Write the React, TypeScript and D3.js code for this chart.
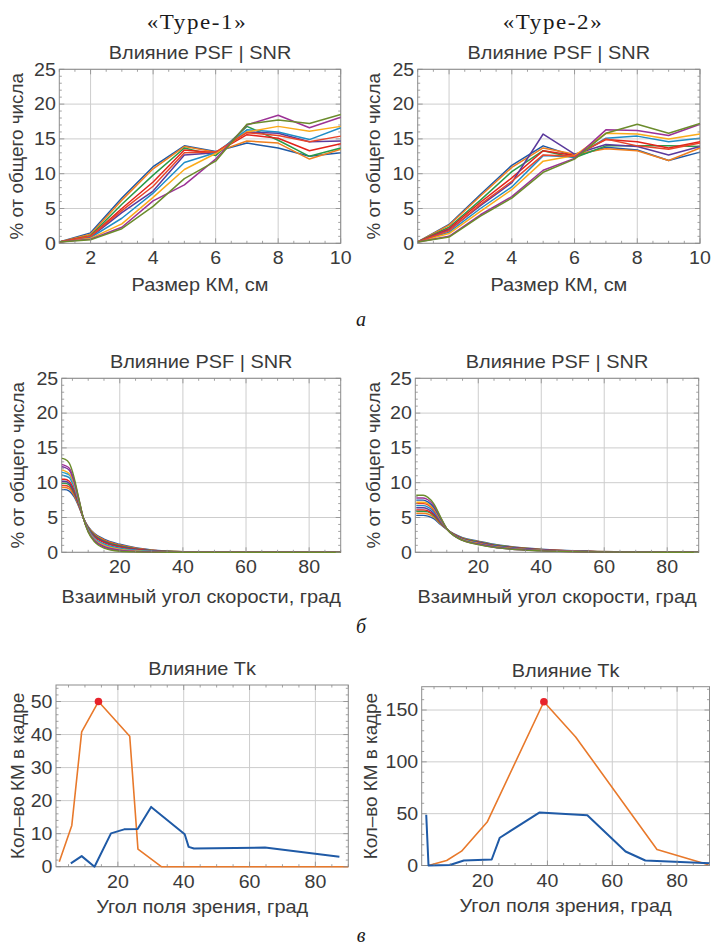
import React from 'react';
import * as d3 from 'd3';

// ---------- DATA ----------
const sizeX = [1, 2, 3, 4, 5, 6, 7, 8, 9, 10];
const type1Size = [
  [0.2, 1.5, 6.5, 11.0, 14.0, 13.2, 14.4, 13.7, 12.5, 13.0],
  [0.2, 1.3, 6.2, 10.7, 13.9, 13.1, 14.7, 14.4, 12.1, 13.5],
  [0.2, 1.1, 5.6, 9.8, 13.7, 12.6, 16.8, 14.8, 12.5, 13.7],
  [0.2, 1.0, 5.0, 8.8, 13.4, 13.0, 15.6, 15.1, 13.3, 14.3],
  [0.2, 0.9, 4.4, 7.5, 12.7, 13.0, 16.0, 15.8, 14.6, 14.7],
  [0.2, 0.8, 3.6, 7.2, 11.6, 13.0, 16.3, 16.0, 14.9, 16.6],
  [0.2, 0.7, 2.8, 6.6, 10.6, 12.9, 16.0, 16.8, 16.1, 16.8],
  [0.2, 1.0, 4.7, 8.2, 13.0, 13.1, 15.9, 15.5, 14.6, 15.4],
  [0.2, 0.6, 2.3, 6.1, 8.4, 12.1, 17.0, 18.4, 16.6, 18.1],
  [0.2, 0.5, 2.1, 5.3, 9.3, 11.8, 17.1, 17.7, 17.2, 18.5],
];
const type2Size = [
  [0.2, 2.7, 7.0, 11.2, 14.0, 12.5, 13.8, 13.4, 11.9, 13.1],
  [0.2, 2.6, 6.8, 10.9, 13.7, 12.8, 13.6, 13.3, 11.9, 13.7],
  [0.2, 2.3, 6.2, 10.3, 13.3, 12.3, 14.0, 14.0, 14.0, 13.9],
  [0.2, 2.1, 5.9, 9.4, 13.3, 12.6, 14.9, 14.6, 13.7, 14.6],
  [0.2, 1.9, 5.4, 8.7, 15.7, 12.8, 14.2, 13.9, 12.7, 13.9],
  [0.2, 1.6, 5.0, 8.1, 12.6, 12.4, 15.1, 15.4, 14.6, 15.1],
  [0.2, 1.4, 4.6, 7.7, 11.8, 12.6, 15.8, 15.7, 15.0, 15.7],
  [0.2, 1.8, 5.6, 8.9, 12.7, 12.5, 15.0, 14.0, 13.5, 14.4],
  [0.2, 1.0, 4.1, 6.7, 10.5, 12.2, 16.3, 16.2, 15.5, 17.1],
  [0.2, 0.9, 3.9, 6.5, 10.2, 12.1, 15.8, 17.1, 15.8, 17.2],
];
const sizeColors = ['#1f5aa6', '#f07f1e', '#2a9a48', '#e2231a', '#5b3a9c', '#1f8dc7', '#fbab1a', '#e8452a', '#9c3296', '#6b8c2c'];

const angleX1 = [1.6, 2.5, 4, 5.5, 7, 8.4, 10, 12, 15, 20, 25, 30, 40, 55, 90];
const type1Angle = [
  [9.0, 9.0, 8.8, 8.0, 6.6, 5.0, 3.7, 2.7, 1.9, 1.15, 0.65, 0.35, 0.1, 0.02, 0],
  [9.3, 9.3, 9.1, 8.2, 6.7, 5.0, 3.6, 2.6, 1.8, 1.05, 0.6, 0.32, 0.09, 0.02, 0],
  [9.6, 9.6, 9.4, 8.4, 6.8, 5.0, 3.55, 2.5, 1.7, 0.98, 0.55, 0.3, 0.08, 0.01, 0],
  [9.9, 9.9, 9.7, 8.6, 6.9, 5.0, 3.5, 2.4, 1.6, 0.9, 0.5, 0.26, 0.07, 0.01, 0],
  [10.2, 10.2, 9.9, 8.8, 7.0, 5.0, 3.4, 2.3, 1.5, 0.82, 0.45, 0.23, 0.06, 0.01, 0],
  [10.5, 10.5, 10.2, 9.0, 7.1, 5.0, 3.35, 2.2, 1.4, 0.75, 0.4, 0.2, 0.05, 0.01, 0],
  [11.1, 11.0, 10.7, 9.4, 7.3, 5.0, 3.25, 2.0, 1.2, 0.6, 0.3, 0.15, 0.03, 0, 0],
  [11.5, 11.4, 11.1, 9.7, 7.4, 5.0, 3.2, 1.9, 1.1, 0.5, 0.25, 0.12, 0.02, 0, 0],
  [11.8, 11.7, 11.3, 9.9, 7.5, 5.0, 3.1, 1.8, 1.0, 0.42, 0.2, 0.09, 0.02, 0, 0],
  [12.3, 12.2, 11.8, 10.2, 7.6, 5.0, 3.0, 1.7, 0.85, 0.32, 0.13, 0.06, 0.01, 0, 0],
  [12.6, 12.5, 12.1, 10.4, 7.7, 5.0, 3.0, 1.6, 0.75, 0.25, 0.1, 0.04, 0.01, 0, 0],
  [13.5, 13.4, 12.8, 10.8, 7.8, 5.0, 2.9, 1.5, 0.6, 0.15, 0.05, 0.02, 0, 0, 0],
];
const angleX2 = [0.3, 2.5, 4, 6, 8, 10.3, 12.5, 15, 20, 25, 30, 40, 55, 70, 90];
const type2Angle = [
  [5.3, 5.3, 5.2, 4.8, 4.0, 3.2, 2.6, 2.1, 1.6, 1.15, 0.85, 0.45, 0.17, 0.07, 0.02],
  [5.6, 5.6, 5.5, 5.0, 4.1, 3.2, 2.55, 2.05, 1.55, 1.1, 0.8, 0.42, 0.15, 0.06, 0.02],
  [5.9, 5.9, 5.8, 5.2, 4.2, 3.2, 2.5, 2.0, 1.5, 1.05, 0.76, 0.39, 0.14, 0.05, 0.02],
  [6.1, 6.1, 5.95, 5.35, 4.3, 3.2, 2.5, 1.95, 1.45, 1.0, 0.72, 0.36, 0.13, 0.05, 0.02],
  [6.4, 6.4, 6.2, 5.55, 4.4, 3.2, 2.45, 1.9, 1.4, 0.95, 0.68, 0.33, 0.12, 0.04, 0.01],
  [6.7, 6.7, 6.5, 5.8, 4.5, 3.2, 2.4, 1.85, 1.35, 0.9, 0.63, 0.3, 0.1, 0.04, 0.01],
  [7.0, 7.0, 6.8, 6.0, 4.65, 3.2, 2.4, 1.8, 1.3, 0.85, 0.58, 0.28, 0.09, 0.03, 0.01],
  [7.2, 7.2, 7.0, 6.2, 4.75, 3.2, 2.35, 1.8, 1.25, 0.8, 0.55, 0.26, 0.08, 0.03, 0.01],
  [7.5, 7.5, 7.25, 6.4, 4.85, 3.2, 2.35, 1.75, 1.2, 0.77, 0.51, 0.24, 0.07, 0.03, 0.01],
  [7.8, 7.8, 7.55, 6.65, 5.0, 3.2, 2.3, 1.72, 1.15, 0.73, 0.48, 0.22, 0.07, 0.02, 0.01],
  [8.2, 8.2, 7.9, 6.9, 5.1, 3.2, 2.3, 1.7, 1.1, 0.7, 0.45, 0.2, 0.06, 0.02, 0.01],
];
const angleColors = ['#1f5aa6', '#f07f1e', '#e8452a', '#2a9a48', '#5b3a9c', '#e2231a', '#1f8dc7', '#2fa0c8', '#fbab1a', '#7a3a9e', '#9c3296', '#6b8c2c'];
const angleColors2 = ['#1f5aa6', '#f07f1e', '#2a9a48', '#e2231a', '#5b3a9c', '#1f8dc7', '#e8452a', '#fbab1a', '#1f5aa6', '#9c3296', '#6b8c2c'];

const tk1OrangeX = [2.2, 6.0, 9.0, 14.1, 23.6, 26.1, 33.2, 90];
const tk1OrangeY = [1.5, 12.5, 40.8, 50, 39.5, 5.3, 0, 0];
const tk1BlueX = [5.7, 9.0, 12.9, 17.9, 21.9, 26.0, 30.1, 40.3, 41.5, 43.1, 64.7, 87.3];
const tk1BlueY = [1.0, 3.2, 0, 10.1, 11.3, 11.4, 18.1, 9.8, 6.0, 5.5, 5.8, 3.0];
const tk1Peak: [number, number] = [14.1, 50];

const tk2OrangeX = [3.3, 8.9, 13.5, 21.4, 38.9, 48.7, 73.8, 89.7];
const tk2OrangeY = [0, 4.8, 13.8, 41.9, 158, 124, 15.5, 0.7];
const tk2BlueX = [2.6, 3.3, 9.9, 14.2, 22.8, 25.3, 37.6, 52.3, 64.1, 70.2, 90];
const tk2BlueY = [49, 0, 0.5, 4.8, 5.8, 26.8, 51.2, 48.4, 13.5, 4.8, 2.2];
const tk2Peak: [number, number] = [38.9, 158];

const sizeXTicks = [2, 4, 6, 8, 10];
const pctTicks = [0, 5, 10, 15, 20, 25];
const angleTicks = [20, 40, 60, 80];
const tk1YTicks = [0, 10, 20, 30, 40, 50];
const tk2YTicks = [0, 50, 100, 150];

// ---------- STYLE ----------
const FONT = '"Liberation Sans", Arial, sans-serif';
const SERIF = '"Liberation Serif", "Times New Roman", serif';
const TXT = '#3a3a3a';
const GRID = '#cdcdcd';
const FRAME = '#8c8c8c';
const ORANGE = '#e8792b';
const BLUE = '#1f5aa6';
const SX = 1.12; // horizontal widening of the glyphs to match the reference font

type TxtProps = {
  x: number; y: number; size: number; anchor?: 'start' | 'middle' | 'end';
  rotate?: number; sx?: number; family?: string; fill?: string; italic?: boolean;
  central?: boolean; spacing?: number; children: React.ReactNode;
};
function Txt(t: TxtProps) {
  const tr = `translate(${t.x},${t.y})${t.rotate ? ` rotate(${t.rotate})` : ''} scale(${t.sx ?? SX},1)`;
  return (
    <text
      transform={tr}
      textAnchor={t.anchor ?? 'middle'}
      dominantBaseline={t.central ? 'central' : undefined}
      fontSize={t.size}
      fontFamily={t.family ?? FONT}
      fill={t.fill ?? TXT}
      fontStyle={t.italic ? 'italic' : undefined}
      letterSpacing={t.spacing}
    >
      {t.children}
    </text>
  );
}

type Series = { xs: number[]; ys: number[]; color: string; width: number };

interface PanelProps {
  id: string;
  left: number; right: number; top: number; bottom: number;
  xDomain: [number, number]; yDomain: [number, number];
  xMajor: number[]; xMinor: number[]; yMajor: number[]; yMinor: number[];
  title: string; xLabel: string; yLabel: string; yLabelX: number;
  xLabelDy: number;
  series: Series[];
  smooth?: boolean;
  dot?: [number, number];
}

function Panel(p: PanelProps) {
  const x = d3.scaleLinear().domain(p.xDomain).range([p.left, p.right]);
  const y = d3.scaleLinear().domain(p.yDomain).range([p.bottom, p.top]);
  const line = d3
    .line<[number, number]>()
    .x((d) => x(d[0]))
    .y((d) => y(d[1]))
    .curve(p.smooth ? d3.curveMonotoneX : d3.curveLinear);
  const inX = (v: number) => v >= p.xDomain[0] - 1e-9 && v <= p.xDomain[1] + 1e-9;
  const inY = (v: number) => v >= p.yDomain[0] - 1e-9 && v <= p.yDomain[1] + 1e-9;
  const cx = (p.left + p.right) / 2;
  const cy = (p.top + p.bottom) / 2;
  const MAJ = 5, MIN = 2.5;
  return (
    <g>
      <defs>
        <clipPath id={`clip-${p.id}`}>
          <rect x={p.left} y={p.top - 4} width={p.right - p.left + 1} height={p.bottom - p.top + 6} />
        </clipPath>
      </defs>
      {p.xMajor.filter(inX).map((v) => (
        <line key={`gx${v}`} x1={x(v)} x2={x(v)} y1={p.top} y2={p.bottom} stroke={GRID} strokeWidth={1} />
      ))}
      {p.yMajor.filter(inY).map((v) => (
        <line key={`gy${v}`} x1={p.left} x2={p.right} y1={y(v)} y2={y(v)} stroke={GRID} strokeWidth={1} />
      ))}
      <rect x={p.left} y={p.top} width={p.right - p.left} height={p.bottom - p.top} fill="none" stroke={FRAME} strokeWidth={1} />
      <g clipPath={`url(#clip-${p.id})`}>
        {p.series.map((s, i) => (
          <path
            key={i}
            d={line(s.xs.map((xv, j) => [xv, s.ys[j]] as [number, number])) || ''}
            fill="none"
            stroke={s.color}
            strokeWidth={s.width}
            strokeLinejoin="round"
          />
        ))}
      </g>
      {p.dot && <circle cx={x(p.dot[0])} cy={y(p.dot[1])} r={3.8} fill="#e8232b" />}
      {[...p.xMajor.map((v) => [v, MAJ]), ...p.xMinor.map((v) => [v, MIN])]
        .filter((t) => inX(t[0]))
        .map(([v, len], i) => (
          <g key={`tx${i}`}>
            <line x1={x(v)} x2={x(v)} y1={p.bottom} y2={p.bottom - len} stroke={FRAME} strokeWidth={0.8} />
            <line x1={x(v)} x2={x(v)} y1={p.top} y2={p.top + len} stroke={FRAME} strokeWidth={0.8} />
          </g>
        ))}
      {[...p.yMajor.map((v) => [v, MAJ]), ...p.yMinor.map((v) => [v, MIN])]
        .filter((t) => inY(t[0]))
        .map(([v, len], i) => (
          <g key={`ty${i}`}>
            <line x1={p.left} x2={p.left + len} y1={y(v)} y2={y(v)} stroke={FRAME} strokeWidth={0.8} />
            <line x1={p.right} x2={p.right - len} y1={y(v)} y2={y(v)} stroke={FRAME} strokeWidth={0.8} />
          </g>
        ))}
      {p.xMajor.filter(inX).map((v) => (
        <Txt key={`lx${v}`} x={x(v)} y={p.bottom + 21} size={17.5}>
          {v}
        </Txt>
      ))}
      {p.yMajor.filter(inY).map((v) => (
        <Txt key={`ly${v}`} x={p.left - 3.5} y={y(v) + 6.3} size={17.5} anchor="end">
          {v}
        </Txt>
      ))}
      <Txt x={cx} y={p.top - 10} size={17.8}>
        {p.title}
      </Txt>
      <Txt x={cx} y={p.bottom + p.xLabelDy} size={17.8}>
        {p.xLabel}
      </Txt>
      <Txt x={p.yLabelX} y={cy} size={17.8} rotate={-90} sx={1.06} central>
        {p.yLabel}
      </Txt>
    </g>
  );
}

const mkSeries = (xs: number[], rows: number[][], colors: string[], width: number): Series[] =>
  rows.map((ys, i) => ({ xs, ys, color: colors[i % colors.length], width }));

export default function App() {
  const sizeMinorX = d3.range(1, 10.01, 0.5).filter((v) => v % 2 !== 0);
  const pctMinor = d3.range(0, 25.01, 1).filter((v) => v % 5 !== 0);
  const angleMinor = d3.range(0, 90.01, 5).filter((v) => v % 20 !== 0);
  const tk1Minor = d3.range(0, 55.01, 2).filter((v) => v % 10 !== 0);
  const tk2Minor = d3.range(0, 172, 10).filter((v) => v % 50 !== 0);

  const pctLabel = '% от общего числа';
  const psfTitle = 'Влияние PSF | SNR';

  return (
    <svg width={712} height={951} style={{ position: 'absolute', left: 0, top: 0 }} xmlns="http://www.w3.org/2000/svg">
      <rect x={0} y={0} width={712} height={951} fill="#ffffff" />
      <Txt x={197} y={28.5} size={20} sx={1.15} spacing={1.4} family={SERIF} fill="#1a1a1a">
        «Type-1»
      </Txt>
      <Txt x={553} y={28.5} size={20} sx={1.15} spacing={1.4} family={SERIF} fill="#1a1a1a">
        «Type-2»
      </Txt>

      <Panel
        id="p1" left={59.3} right={340.7} top={69.3} bottom={243.3}
        xDomain={[1, 10]} yDomain={[0, 25]}
        xMajor={sizeXTicks} xMinor={sizeMinorX} yMajor={pctTicks} yMinor={pctMinor}
        title={psfTitle} xLabel="Размер КМ, см" yLabel={pctLabel} yLabelX={17} xLabelDy={48}
        series={mkSeries(sizeX, type1Size, sizeColors, 1.5)}
      />
      <Panel
        id="p2" left={417.7} right={700} top={69.3} bottom={243.3}
        xDomain={[1, 10]} yDomain={[0, 25]}
        xMajor={sizeXTicks} xMinor={sizeMinorX} yMajor={pctTicks} yMinor={pctMinor}
        title={psfTitle} xLabel="Размер КМ, см" yLabel={pctLabel} yLabelX={374} xLabelDy={48}
        series={mkSeries(sizeX, type2Size, sizeColors, 1.5)}
      />
      <Panel
        id="p3" left={61.7} right={340.7} top={378.3} bottom={552.3}
        xDomain={[1.6, 90]} yDomain={[0, 25]}
        xMajor={angleTicks} xMinor={angleMinor} yMajor={pctTicks} yMinor={pctMinor}
        title={psfTitle} xLabel="Взаимный угол скорости, град" yLabel={pctLabel} yLabelX={18} xLabelDy={51}
        series={mkSeries(angleX1, type1Angle, angleColors, 1.4)} smooth
      />
      <Panel
        id="p4" left={415.3} right={698.7} top={378.3} bottom={552.3}
        xDomain={[0, 90]} yDomain={[0, 25]}
        xMajor={angleTicks} xMinor={angleMinor} yMajor={pctTicks} yMinor={pctMinor}
        title={psfTitle} xLabel="Взаимный угол скорости, град" yLabel={pctLabel} yLabelX={374} xLabelDy={51}
        series={mkSeries(angleX2, type2Angle, angleColors2, 1.4)} smooth
      />
      <Panel
        id="p5" left={56} right={348.3} top={685} bottom={866.7}
        xDomain={[1.2, 90]} yDomain={[0, 55]}
        xMajor={angleTicks} xMinor={angleMinor} yMajor={tk1YTicks} yMinor={tk1Minor}
        title="Влияние Tk" xLabel="Угол поля зрения, град" yLabel="Кол–во КМ в кадре" yLabelX={17.5} xLabelDy={46}
        series={[
          { xs: tk1OrangeX, ys: tk1OrangeY, color: ORANGE, width: 1.6 },
          { xs: tk1BlueX, ys: tk1BlueY, color: BLUE, width: 2 },
        ]}
        dot={tk1Peak}
      />
      <Panel
        id="p6" left={421.7} right={709.5} top={686.7} bottom={865.5}
        xDomain={[1.2, 90]} yDomain={[0, 172.5]}
        xMajor={angleTicks} xMinor={angleMinor} yMajor={tk2YTicks} yMinor={tk2Minor}
        title="Влияние Tk" xLabel="Угол поля зрения, град" yLabel="Кол–во КМ в кадре" yLabelX={371} xLabelDy={46}
        series={[
          { xs: tk2OrangeX, ys: tk2OrangeY, color: ORANGE, width: 1.6 },
          { xs: tk2BlueX, ys: tk2BlueY, color: BLUE, width: 2 },
        ]}
        dot={tk2Peak}
      />

      <Txt x={361} y={326} size={20} sx={1} italic family={SERIF} fill="#1a1a1a">а</Txt>
      <Txt x={361} y={633} size={20} sx={1} italic family={SERIF} fill="#1a1a1a">б</Txt>
      <Txt x={361} y={942} size={20} sx={1} italic family={SERIF} fill="#1a1a1a">в</Txt>
    </svg>
  );
}
